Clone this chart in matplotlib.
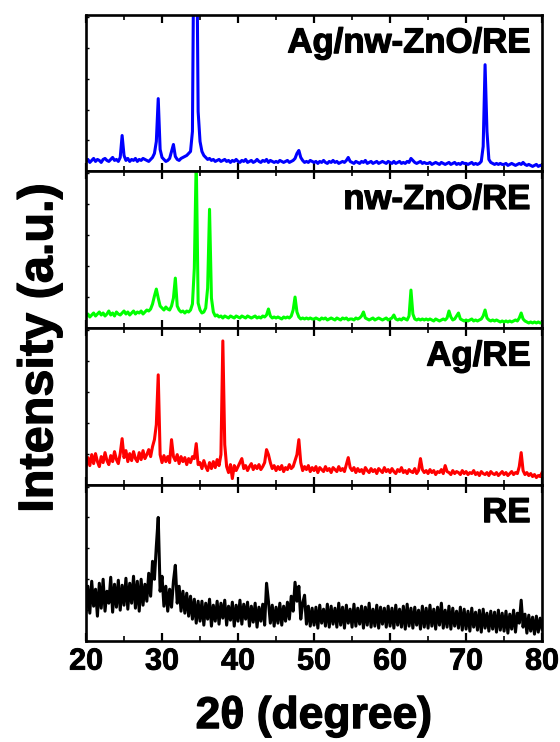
import numpy as np
import matplotlib.pyplot as plt
import matplotlib.patheffects as pe
from matplotlib.ticker import MultipleLocator

plt.rcParams['font.family'] = ['Liberation Sans', 'DejaVu Sans']
plt.rcParams['font.weight'] = 'bold'

# 2theta sampling (0.25 deg steps, 20..80)
two_theta = np.linspace(20, 80, 241)

# intensities (a.u., arbitrary per panel), 5 degrees per row
ag_nw_zno_re = [
    10, 12, 9, 11, 13, 10, 12, 11, 9, 12, 13, 11, 10, 12, 14, 11, 12, 10, 14, 36,
    16, 11, 13, 10, 12, 11, 13, 10, 12, 11, 13, 12, 11, 10, 12, 14, 18, 30, 73, 22,
    14, 12, 10, 11, 13, 20, 27, 15, 12, 11, 13, 14, 15, 16, 18, 20, 40, 300, 300, 60,
    30, 20, 16, 14, 12, 13, 11, 12, 10, 11, 12, 10, 11, 12, 10, 11, 9, 11, 10, 12,
    10, 9, 11, 10, 12, 9, 10, 11, 9, 10, 12, 10, 9, 11, 10, 12, 9, 11, 10, 9,
    10, 9, 11, 10, 9, 10, 11, 9, 10, 11, 13, 18, 21, 14, 11, 9, 10, 9, 11, 10,
    9, 10, 8, 10, 9, 11, 9, 8, 10, 9, 11, 9, 10, 8, 9, 10, 9, 11, 14, 10,
    9, 8, 10, 9, 8, 10, 9, 11, 8, 9, 10, 8, 9, 10, 8, 9, 10, 9, 8, 10,
    9, 8, 10, 8, 9, 10, 8, 9, 8, 10, 9, 13, 11, 9, 8, 9, 10, 8, 9, 8,
    8, 9, 7, 8, 9, 8, 7, 9, 8, 7, 8, 9, 7, 8, 9, 7, 8, 7, 9, 8,
    8, 7, 8, 9, 7, 8, 7, 8, 10, 25, 107, 40, 12, 9, 8, 7, 8, 7, 8, 7,
    7, 8, 6, 7, 8, 7, 6, 7, 8, 7, 9, 7, 6, 7, 6, 5, 6, 7, 5, 6,
    6,
]

nw_zno_re = [
    12, 14, 11, 13, 15, 12, 14, 16, 13, 15, 12, 14, 17, 13, 15, 12, 16, 14, 13, 15,
    17, 14, 16, 13, 15, 17, 14, 16, 15, 17, 14, 16, 18, 17, 19, 24, 32, 39, 30, 22,
    20, 18, 21, 19, 18, 22, 30, 50, 22, 18, 16, 17, 15, 17, 16, 18, 24, 60, 170, 25,
    18, 15, 16, 20, 40, 119, 30, 16, 12, 13, 11, 12, 10, 12, 11, 10, 12, 11, 10, 12,
    11, 10, 12, 11, 10, 12, 11, 10, 11, 12, 10, 11, 10, 12, 11, 13, 19, 12, 10, 11,
    10, 11, 10, 9, 11, 10, 11, 10, 12, 18, 31, 16, 11, 9, 10, 9, 10, 9, 10, 9,
    9, 10, 9, 8, 10, 9, 10, 8, 9, 10, 9, 8, 10, 9, 8, 10, 9, 10, 8, 9,
    9, 8, 10, 9, 10, 12, 16, 10, 9, 8, 9, 10, 8, 9, 10, 9, 8, 9, 10, 8,
    9, 10, 13, 9, 8, 9, 8, 10, 9, 8, 12, 38, 14, 9, 8, 9, 8, 9, 8, 9,
    8, 9, 8, 7, 9, 8, 7, 8, 9, 8, 10, 17, 11, 8, 9, 12, 15, 9, 8, 7,
    8, 7, 8, 9, 7, 8, 7, 8, 9, 12, 18, 10, 8, 7, 8, 7, 8, 7, 6, 7,
    6, 7, 6, 7, 6, 7, 8, 7, 10, 15, 9, 7, 6, 5, 6, 5, 6, 5, 6, 5,
    5,
]

ag_re = [
    18, 27, 19, 30, 21, 31, 23, 18, 28, 22, 32, 24, 20, 29, 23, 33, 25, 21, 31, 46,
    27, 34, 23, 31, 24, 33, 26, 23, 32, 25, 34, 26, 30, 35, 28, 38, 45, 60, 110, 30,
    22, 29, 23, 28, 22, 45, 28, 24, 30, 21, 28, 23, 27, 20, 26, 22, 28, 26, 41, 20,
    22, 16, 24, 18, 14, 22, 16, 23, 17, 25, 19, 30, 144, 40, 18, 12, 20, 6, 19, 14,
    18, 22, 26, 16, 19, 14, 18, 21, 15, 19, 16, 20, 15, 18, 22, 35, 30, 22, 16, 19,
    14, 18, 15, 19, 13, 17, 15, 20, 16, 18, 24, 30, 45, 22, 14, 18, 15, 19, 13, 17,
    14, 18, 12, 17, 15, 13, 18, 14, 16, 12, 17, 15, 13, 18, 14, 16, 13, 20, 27, 17,
    14, 17, 12, 16, 13, 15, 11, 17, 14, 12, 16, 13, 15, 11, 16, 14, 12, 17, 13, 15,
    12, 16, 13, 11, 15, 13, 17, 12, 14, 11, 15, 13, 12, 16, 11, 14, 26, 15, 12, 14,
    11, 15, 12, 14, 10, 13, 12, 15, 11, 19, 13, 12, 10, 14, 11, 13, 12, 10, 14, 11,
    13, 10, 12, 11, 14, 10, 12, 9, 13, 11, 10, 12, 9, 13, 11, 10, 12, 9, 11, 13,
    10, 12, 9, 11, 13, 10, 12, 11, 18, 32, 14, 10, 12, 9, 11, 8, 10, 7, 9, 8,
    12,
]

re = [
    30, 55, 28, 60, 35, 52, 25, 58, 33, 62, 30, 50, 38, 64, 29, 57, 34, 61, 31, 56,
    36, 63, 32, 58, 38, 65, 33, 60, 30, 62, 36, 57, 40, 68, 45, 80, 62, 95, 124, 50,
    65, 35, 55, 30, 52, 34, 60, 76, 38, 55, 30, 50, 28, 48, 25, 45, 22, 42, 18, 40,
    20, 40, 16, 38, 22, 42, 15, 36, 20, 40, 17, 38, 23, 41, 16, 35, 21, 39, 15, 36,
    20, 41, 17, 37, 22, 39, 15, 35, 19, 38, 14, 34, 20, 37, 16, 58, 40, 18, 36, 15,
    34, 18, 38, 16, 35, 20, 39, 22, 45, 30, 59, 40, 55, 22, 38, 46, 17, 35, 15, 33,
    16, 34, 13, 36, 18, 32, 15, 37, 14, 35, 17, 33, 14, 38, 16, 34, 13, 36, 18, 32,
    14, 37, 15, 33, 17, 35, 13, 34, 16, 38, 14, 32, 15, 36, 13, 34, 17, 33, 14, 35,
    15, 33, 13, 36, 16, 32, 14, 35, 12, 37, 15, 33, 13, 34, 16, 31, 12, 35, 14, 33,
    13, 36, 15, 32, 12, 34, 16, 38, 13, 31, 14, 35, 12, 33, 15, 30, 13, 34, 11, 32,
    12, 30, 10, 33, 14, 29, 11, 31, 9, 32, 13, 28, 10, 30, 12, 29, 9, 31, 11, 28,
    10, 30, 8, 27, 12, 31, 9, 28, 18, 41, 14, 27, 8, 26, 10, 24, 7, 25, 9, 23,
    12,
]

samples = ['Ag/nw-ZnO/RE', 'nw-ZnO/RE', 'Ag/RE', 'RE']
series = [ag_nw_zno_re, nw_zno_re, ag_re, re]
colors = ['#0000ff', '#00ff00', '#ff0000', '#000000']

# slight stroke to get the heavy Arial-bold look of the original
heavy = [pe.withStroke(linewidth=0.9, foreground='black')]

fig, axes = plt.subplots(4, 1, sharex=True, figsize=(5.6, 7.42), dpi=100)
fig.subplots_adjust(left=0.1536, right=0.968, bottom=0.136, top=0.980, hspace=0)

for ax, name, y, c in zip(axes, samples, series, colors):
    ax.plot(two_theta, y, color=c, lw=2.2)
    ax.set_xlim(20, 80)
    ax.set_ylim(0, 157)
    ax.xaxis.set_major_locator(MultipleLocator(10))
    ax.xaxis.set_minor_locator(MultipleLocator(5))
    ax.yaxis.set_major_locator(MultipleLocator(31))
    ax.tick_params(axis='x', which='major', direction='in', length=6, width=1.6,
                   top=True, labelsize=22, pad=4)
    ax.tick_params(axis='x', which='minor', direction='in', length=3.5, width=1.2, top=True)
    ax.tick_params(axis='y', which='major', direction='in', length=2.5, width=1.0,
                   labelleft=False)
    for s in ax.spines.values():
        s.set_linewidth(1.9)
    ax.text(0.975, 0.76, name, transform=ax.transAxes, ha='right', va='baseline',
            fontsize=25, fontweight='bold', path_effects=heavy)

for lab in axes[-1].get_xticklabels():
    lab.set_fontweight('bold')
    lab.set_path_effects([pe.withStroke(linewidth=0.6, foreground='black')])
axes[-1].set_xlabel('2θ (degree)', fontsize=32, fontweight='bold', labelpad=14,
                    path_effects=heavy)
fig.text(0.071, 0.531, 'Intensity (a.u.)', rotation=90, ha='center', va='center',
         fontsize=35, fontweight='bold', path_effects=heavy)

fig.savefig('out.png', dpi=100)
